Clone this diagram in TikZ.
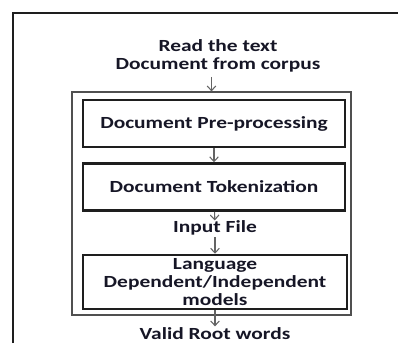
\documentclass[tikz,border=0pt]{standalone}
\usepackage{fontspec}
\setmainfont{Carlito}[FakeStretch=1.26]
\usetikzlibrary{positioning}
\usetikzlibrary{arrows.meta}
\definecolor{ink}		{RGB}{22,22,38}
\definecolor{line1}		{RGB}{30,30,30}
\definecolor{line2}		{RGB}{80,80,80}
\definecolor{arrow1}	{RGB}{100,100,100}
\tikzset{x=0.75pt, y=-0.75pt, node distance=10.5pt}
\tikzstyle{flowtext}=	[font=\fontsize{12.75}{13.8}\bfseries\selectfont, text=ink, align=center, inner sep=0pt]
\tikzstyle{stage}=		[flowtext, draw=line1, line width=1.9pt, minimum width=196.5pt, minimum height=35.25pt]
\tikzstyle{outerbox}=	[draw=line2, line width=0.9pt, inner sep=0pt]
\tikzstyle{groupbox}=	[draw=line2, line width=0.5pt, double, double distance=1pt, inner sep=0pt]
\tikzstyle{flow}=		[draw=arrow1, line width=0.8pt, -{Straight Barb[length=3.5pt, width=6.5pt]}]
\tikzstyle{frame}=		[draw=line1, line width=1.6pt]

\begin{document}
\begin{tikzpicture}
	\useasboundingbox (0,0) rectangle (398,343);

	% page frame
	\draw[frame] (13,343) -- (13,13) -- (398,13);

	%%% enclosing boxes
	\node[outerbox, minimum width=209.25pt, minimum height=167.25pt] (outer) at (211.5,203.5) {};
	\node[groupbox, minimum width=204pt, minimum height=87.75pt] (group) at (212,153.5) {};

	%%% stages
	% nodes
	\node[flowtext] (readtxt) at (218,56) {Read the text\\Document from corpus};

	\node[stage] (prep) at (214,123.5) {Document Pre-processing};
	\node[stage, below=of prep] (token) {Document Tokenization};

	\node[flowtext] (input) at (215,228) {Input File};

	\node[stage, minimum width=198pt, minimum height=40.5pt] (lang) at (215,282)
		{Language\\Dependent/Independent\\models};

	\node[flowtext] (roots) at (215,334) {Valid Root words};

	% arrows
	\draw[flow, shorten <=3pt] (readtxt.south -| outer.north) -- (outer.north);
	\draw[flow] (prep) -- (token);
	\draw[flow] (token) -- (input);
	\draw[flow, shorten <=1pt] (input) -- (lang);
	\draw[flow, shorten >=1pt] (lang) -- (roots);

\end{tikzpicture}
\end{document}
